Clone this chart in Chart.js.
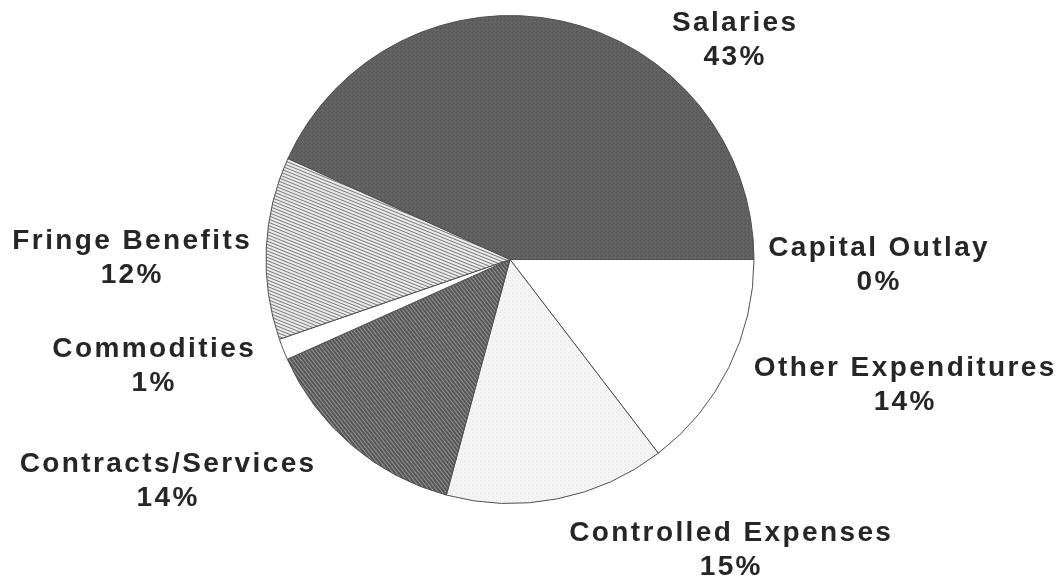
<!DOCTYPE html>
<html>
<head>
<meta charset="utf-8">
<script src="https://cdn.jsdelivr.net/npm/chart.js@4/dist/chart.umd.min.js"></script>
<style>
  html, body { margin: 0; padding: 0; background: #ffffff; }
  #wrap { width: 1063px; height: 578px; position: relative; }
</style>
</head>
<body>
<div id="wrap"><canvas id="c" width="1063" height="578"></canvas></div>
<script>
// ---- data (clockwise from 3 o'clock) ----
const categories = ['Capital Outlay', 'Other Expenditures', 'Controlled Expenses', 'Contracts/Services', 'Commodities', 'Fringe Benefits', 'Salaries'];
const shares = [0, 14.6, 14.6, 14.1, 1.4, 12.1, 43.2];
const percentLabels = ['0%', '14%', '15%', '14%', '1%', '12%', '43%'];

// ---- layout: label block centres, in units of the pie radius relative to its centre ----
const labelOffsets = [
  [1.508, 0.023],
  [1.615, 0.516],
  [0.902, 1.190],
  [-1.406, 0.908],
  [-1.463, 0.436],
  [-1.553, -0.006],
  [0.918, -0.898]
];

function stipple(base, dots) {
  const t = document.createElement('canvas');
  t.width = 4; t.height = 4;
  const g = t.getContext('2d');
  g.fillStyle = base; g.fillRect(0, 0, 4, 4);
  dots.forEach(d => { g.fillStyle = d[2]; g.fillRect(d[0], d[1], 1, 1); });
  return g.createPattern(t, 'repeat');
}
function hatch(bg, fg, period, lw, angle) {
  const t = document.createElement('canvas');
  t.width = 8; t.height = period;
  const g = t.getContext('2d');
  g.fillStyle = bg; g.fillRect(0, 0, 8, period);
  g.fillStyle = fg; g.fillRect(0, 0, 8, lw);
  const p = g.createPattern(t, 'repeat');
  p.setTransform(new DOMMatrix().rotate(angle));
  return p;
}

const ctx = document.getElementById('c').getContext('2d');
const fills = [
  '#ffffff',
  '#ffffff',
  stipple('#f4f4f4', [[0,0,'#e6e6e6'],[2,2,'#ebebeb']]),
  hatch('#939393', '#555555', 3, 2, 52),
  '#ffffff',
  hatch('#ececec', '#7c7c7c', 3, 1, 22),
  stipple('#606060', [[0,0,'#555555'],[2,1,'#6a6a6a'],[1,3,'#585858'],[3,2,'#676767']])
];

const labelPlugin = {
  id: 'outerLabels',
  afterDatasetsDraw(chart) {
    const meta = chart.getDatasetMeta(0);
    const a = meta.data[0];
    const cx = a.x, cy = a.y, r = a.outerRadius;
    const c = chart.ctx;
    c.save();
    c.fillStyle = '#262626';
    c.font = "bold 28px 'Liberation Sans', Arial, sans-serif";
    c.letterSpacing = '2.4px';
    c.textAlign = 'center';
    c.textBaseline = 'middle';
    categories.forEach((name, i) => {
      const x = cx + labelOffsets[i][0] * r;
      const y = cy + labelOffsets[i][1] * r;
      c.fillText(name, x + 1.2, y - 17);
      c.fillText(percentLabels[i], x + 1.2, y + 17);
    });
    c.restore();
  }
};

new Chart(ctx, {
  type: 'pie',
  data: {
    labels: categories,
    datasets: [{
      data: shares,
      backgroundColor: fills,
      borderColor: '#505050',
      borderWidth: 1
    }]
  },
  options: {
    responsive: false,
    animation: false,
    rotation: 90,
    layout: { padding: { top: 15, bottom: 74, left: 0, right: 43 } },
    plugins: {
      legend: { display: false },
      tooltip: { enabled: false }
    },
    events: []
  },
  plugins: [labelPlugin]
});
</script>
</body>
</html>
